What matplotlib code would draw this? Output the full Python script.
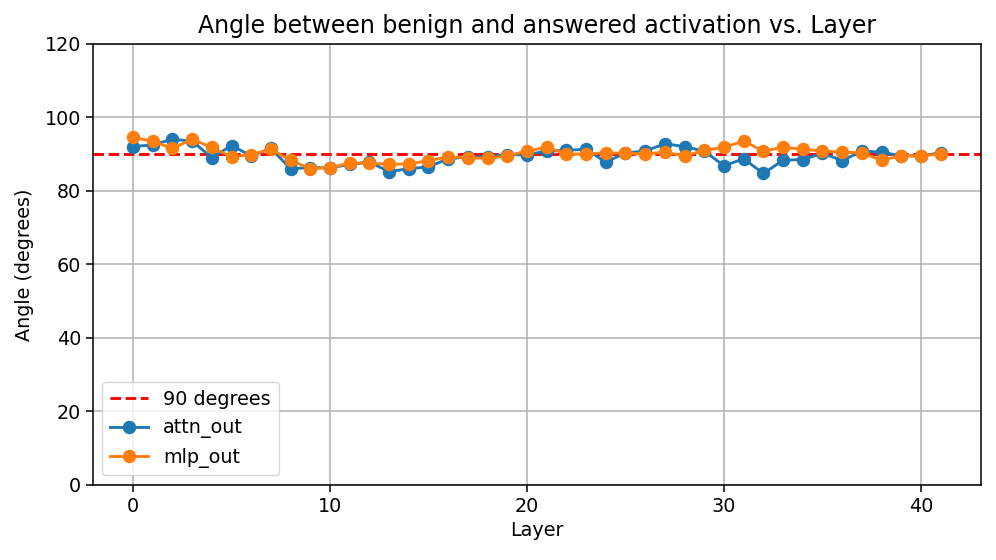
import numpy as np
import matplotlib
matplotlib.use("Agg")
import matplotlib.pyplot as plt

# Data
layers = list(range(42))
attn_out = [92.0, 92.5, 94.0, 93.5, 89.0, 92.3, 89.5, 91.5, 86.0, 86.3,
            86.2, 87.2, 87.8, 85.2, 86.0, 86.5, 88.7, 89.2, 89.3, 89.8,
            89.8, 90.8, 91.0, 91.3, 87.8, 90.3, 90.8, 92.8, 92.0, 90.8,
            86.8, 88.7, 84.7, 88.3, 88.5, 90.2, 88.2, 90.8, 90.5, 89.5,
            89.5, 90.3]
mlp_out = [94.5, 93.5, 91.5, 94.0, 91.8, 89.2, 89.8, 91.3, 88.3, 86.0,
           86.3, 87.5, 87.5, 87.2, 87.3, 88.2, 89.2, 89.0, 88.8, 89.5,
           90.8, 91.8, 90.0, 90.0, 90.3, 90.2, 90.0, 90.5, 89.5, 91.0,
           91.8, 93.5, 90.8, 91.8, 91.3, 90.8, 90.5, 90.3, 88.3, 89.5,
           89.5, 90.0]

s = 1.375  # scale of the original render
plt.rcParams['font.size'] = 10 * s
plt.rcParams['axes.linewidth'] = 0.8 * s
plt.rcParams['grid.linewidth'] = 0.8 * s
plt.rcParams['xtick.major.width'] = 0.8 * s
plt.rcParams['ytick.major.width'] = 0.8 * s
plt.rcParams['xtick.major.size'] = 3.5 * s
plt.rcParams['ytick.major.size'] = 3.5 * s

fig, ax = plt.subplots(figsize=(9.96, 5.6), dpi=100)
ax.axhline(90, color='red', linestyle='--', linewidth=1.5 * s, label='90 degrees')
ax.plot(layers, attn_out, marker='o', markersize=6.3 * s, linewidth=1.5 * s, label='attn_out')
ax.plot(layers, mlp_out, marker='o', markersize=6.3 * s, linewidth=1.5 * s, label='mlp_out')
ax.set_ylim(0, 120)
ax.set_xlabel('Layer')
ax.set_ylabel('Angle (degrees)', labelpad=8)
ax.set_title('Angle between benign and answered activation vs. Layer', fontsize=17, pad=8)
ax.grid(True, color='#b0b0b0')
ax.legend(loc='lower left')
fig.subplots_adjust(left=0.093, right=0.985, top=0.922, bottom=0.134)
fig.savefig('out.png')
